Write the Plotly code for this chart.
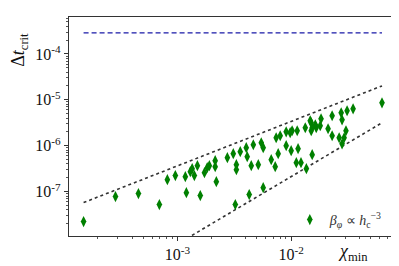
import numpy as np
import plotly.graph_objects as go

# Scatter data (chi_min, dt_crit)
chi_min = [1.50e-4, 2.86e-4, 4.55e-4, 6.95e-4, 8.17e-4, 9.60e-4, 1.20e-3, 1.175e-3,
           1.30e-3, 1.35e-3, 1.41e-3, 1.50e-3, 1.59e-3, 1.73e-3, 1.83e-3, 1.91e-3,
           2.15e-3, 2.15e-3, 2.20e-3, 2.75e-3, 3.10e-3, 3.57e-3, 3.30e-3, 3.30e-3,
           4.03e-3, 4.11e-3, 3.23e-3, 4.28e-3, 5.68e-3, 4.65e-3, 5.46e-3, 5.68e-3,
           4.46e-3, 5.14e-3, 6.68e-3, 7.24e-3, 7.69e-3, 7.38e-3, 8.01e-3, 9.04e-3,
           9.80e-3, 1.02e-2, 1.13e-2, 1.33e-2, 1.47e-2, 1.53e-2, 1.66e-2, 1.00e-2,
           1.15e-2, 1.11e-2, 1.22e-2, 1.36e-2, 1.53e-2, 1.50e-2, 1.63e-2, 1.83e-2,
           1.80e-2, 1.50e-2, 2.29e-2, 2.75e-2, 2.80e-2, 3.10e-2, 3.50e-2, 6.28e-2,
           2.11e-2, 2.29e-2, 2.64e-2, 3.03e-2, 2.92e-2, 2.80e-2, 9.04e-3]
dt_crit = [2.23e-8, 7.78e-8, 9.06e-8, 5.21e-8, 1.82e-7, 2.23e-7, 9.5e-8, 2.12e-7,
           2.72e-7, 3.16e-7, 2.23e-7, 3.67e-7, 8.2e-8, 2.59e-7, 3.32e-7, 3.67e-7,
           4.72e-7, 3.49e-7, 1.65e-7, 5.48e-7, 6.70e-7, 7.41e-7, 3.86e-7, 3.01e-7,
           9.06e-7, 5.77e-7, 5.21e-8, 8.6e-8, 1.22e-7, 1.05e-6, 1.16e-6, 9.06e-7,
           3.67e-7, 3.86e-7, 4.96e-7, 3.49e-7, 6.70e-7, 1.49e-6, 1.65e-6, 1.0e-6,
           1.92e-6, 2.12e-6, 2.12e-6, 2.46e-6, 3.49e-6, 2.46e-6, 2.46e-6, 7.78e-7,
           8.6e-7, 4.26e-7, 4.26e-7, 3.16e-7, 6.37e-7, 3.16e-6, 2.86e-6, 3.86e-6,
           2.72e-6, 2.12e-6, 4.49e-6, 5.21e-6, 3.67e-6, 5.77e-6, 6.37e-6, 8.6e-6,
           2.34e-6, 1.65e-6, 1.49e-6, 2.12e-6, 1.49e-6, 1.10e-6, 2.01e-6]

# Guide lines
line_x = [1.50e-4, 6.28e-2]
upper_y = [5.77e-8, 2.01e-5]
lower_y = [4.43e-10, 3.16e-6]
limit_y = [2.86e-4, 2.86e-4]

# Tick positions and labels
x_major = [1e-4, 1e-3, 1e-2, 1e-1]
x_major_text = ["10<sup>-4</sup>", "10<sup>-3</sup>", "10<sup>-2</sup>", "10<sup>-1</sup>"]
y_major = [1e-8, 1e-7, 1e-6, 1e-5, 1e-4, 1e-3]
y_major_text = ["10<sup>-8</sup>", "10<sup>-7</sup>", "10<sup>-6</sup>",
                "10<sup>-5</sup>", "10<sup>-4</sup>", "10<sup>-3</sup>"]
x_minor = [m * d for d in [1e-4, 1e-3, 1e-2] for m in range(2, 10)]
y_minor = [m * d for d in [1e-8, 1e-7, 1e-6, 1e-5, 1e-4] for m in range(2, 10)]

SERIF = "Liberation Serif"

fig = go.Figure()
fig.add_trace(go.Scatter(x=line_x, y=limit_y, mode="lines", showlegend=False,
                         line=dict(color="#1a1aa8", width=1.3, dash="5px,3px")))
fig.add_trace(go.Scatter(x=line_x, y=upper_y, mode="lines", showlegend=False,
                         line=dict(color="#333333", width=1.6, dash="dot")))
fig.add_trace(go.Scatter(x=line_x, y=lower_y, mode="lines", showlegend=False,
                         line=dict(color="#333333", width=1.6, dash="dot")))
fig.add_trace(go.Scatter(x=chi_min, y=dt_crit, mode="markers",
                         name="<i>β</i><sub><i>φ</i></sub> ∝ <i>h</i><sub>c</sub><sup>−3</sup>",
                         marker=dict(symbol="diamond-tall", size=8, color="#008000",
                                     line=dict(width=0))))

axis_common = dict(type="log", showgrid=False, zeroline=False, showline=True,
                   linecolor="#333333", linewidth=1.2, mirror=True,
                   ticks="outside", ticklen=4, tickcolor="#333333",
                   tickmode="array",
                   tickfont=dict(family=SERIF, size=16, color="#111111"))

fig.update_layout(
    width=399, height=266,
    font=dict(family=SERIF),
    margin=dict(l=60.5, r=11, t=9, b=37.5),
    paper_bgcolor="white", plot_bgcolor="white",
    xaxis=dict(range=[-3.952, -1.079], tickvals=x_major, ticktext=x_major_text,
               minor=dict(tickmode="array", tickvals=x_minor, ticks="outside",
                          ticklen=2, tickcolor="#555555", showgrid=False),
               **axis_common),
    yaxis=dict(range=[-7.967, -3.196], tickvals=y_major, ticktext=y_major_text,
               minor=dict(tickmode="array", tickvals=y_minor, ticks="outside",
                          ticklen=2, tickcolor="#555555", showgrid=False),
               **axis_common),
    showlegend=True,
    legend=dict(x=0.975, y=0.0, xanchor="right", yanchor="bottom",
                bgcolor="rgba(0,0,0,0)", itemwidth=30,
                font=dict(family=SERIF, size=14, color="#333333")),
    annotations=[
        dict(text="Δ<i>t</i><sub>crit</sub>", xref="paper", yref="paper",
             x=-0.15, y=0.85, xanchor="center", yanchor="middle", textangle=-90,
             showarrow=False, font=dict(family=SERIF, size=18, color="#111111")),
        dict(text="<i>χ</i><sub>min</sub>", xref="paper", yref="paper",
             x=0.87, y=-0.075, xanchor="center", yanchor="middle",
             showarrow=False, font=dict(family=SERIF, size=18, color="#111111")),
    ],
)

fig.write_html("out.html")
